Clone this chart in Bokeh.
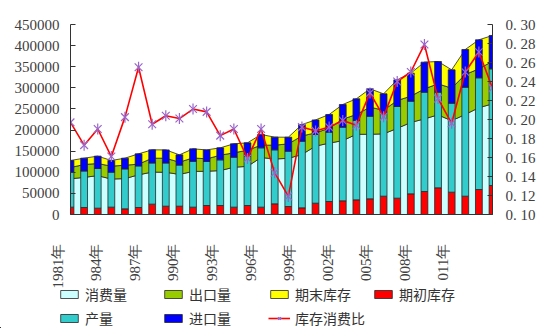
import numpy as np
from bokeh.plotting import figure
from bokeh.core.properties import value
from bokeh.models import (Range1d, LinearAxis, FixedTicker, NumeralTickFormatter,
                          CustomJSTickFormatter, Legend, LegendItem, ColumnDataSource)
from bokeh.embed import file_html
from bokeh.resources import INLINE

# ---------------- data ----------------
years = list(range(1981, 2013))
consumption = [84500, 88000, 92000, 84000, 85000, 94000, 100500, 100000, 95000, 102000,
               102500, 104000, 112000, 114000, 135000, 131500, 133000, 142000, 162000, 169000,
               175000, 190000, 190000, 191000, 204000, 218000, 226500, 236000, 222000, 237000,
               253000, 262000]
exports = [26800, 30400, 28800, 30500, 31800, 25200, 32900, 33300, 28900, 32200,
           29200, 36500, 34100, 38300, 29200, 32800, 34200, 44200, 31200, 35400,
           50800, 46900, 64200, 56100, 66000, 62200, 71100, 73500, 77200, 94600,
           92000, 101000]
end_stock = [16600, 15000, 17400, 13400, 16600, 24500, 19700, 19700, 17400, 21300,
             21300, 17400, 21300, 17400, 25300, 18900, 15800, 26800, 30800, 32400,
             34700, 37100, 43400, 38700, 48900, 54500, 63200, 52900, 43400, 59200,
             68700, 61000]
begin_stock = [17400, 16600, 15000, 17400, 13400, 16600, 24500, 19700, 19700, 17400,
               21300, 21300, 17400, 21300, 17400, 25300, 18900, 15800, 26800, 30800,
               32400, 34700, 37100, 43400, 38700, 48900, 54500, 63200, 52900, 43400,
               59200, 68700]
production = [82900, 86400, 94000, 82900, 94600, 98400, 97500, 102300, 97300, 108600,
              104200, 108100, 118400, 116100, 140500, 127800, 131100, 157800, 162700, 164200,
              174400, 187900, 195700, 195000, 217100, 219500, 235200, 226500, 210700, 258100,
              264500, 276300]
imports = [27600, 30400, 29200, 27600, 25400, 28700, 31100, 31000, 24300, 29500,
           27500, 28500, 31600, 32300, 31600, 30100, 33000, 39400, 34500, 41800,
           53700, 51400, 64800, 47400, 63100, 66300, 71100, 72700, 79000, 89300,
           90000, 79000]
stock_ratio = [0.197, 0.173, 0.190, 0.161, 0.2025, 0.255, 0.195, 0.204, 0.201, 0.211,
               0.208, 0.183, 0.190, 0.159, 0.190, 0.144, 0.119, 0.192, 0.188, 0.192,
               0.199, 0.194, 0.228, 0.203, 0.240, 0.250, 0.279, 0.222, 0.196, 0.250,
               0.271, 0.233]
tick_years = [1981, 1984, 1987, 1990, 1993, 1996, 1999, 2002, 2005, 2008, 2011]
tick_labels = ["1981年", "984年", "987年", "990年", "993年", "996年",
               "999年", "002年", "005年", "008年", "011年"]
series_names = ["消费量", "出口量", "期末库存", "期初库存", "产量", "进口量", "库存消费比"]

# ---------------- style / layout ----------------
C_CONS, C_EXP, C_END = "#CCFFFF", "#99CC00", "#FFFF00"
C_BEG, C_PROD, C_IMP = "#FF0000", "#33CCCC", "#0000FF"
OUT = "#262626"
MARK = "#9966CC"
NUM_FONT = "Liberation Serif"
CJK_FONT = "Noto Sans CJK SC"
W = 556
LEFT, RIGHT, TOP = 70, 64, 24
FRAME_H = 190
BOTTOM = 10
MAIN_H = TOP + FRAME_H + BOTTOM
LOW_H = 328 - MAIN_H
X0, X1 = 1981, 2012
PX_PER_YEAR = (W - LEFT - RIGHT) / (X1 - X0)

p = figure(width=W, height=MAIN_H, output_backend="svg", toolbar_location=None,
           x_range=Range1d(X0, X1), y_range=Range1d(0, 450000),
           min_border_left=LEFT, min_border_right=RIGHT, min_border_top=TOP,
           min_border_bottom=BOTTOM)
p.extra_y_ranges = {"r": Range1d(0.10, 0.30)}
p.outline_line_color = None
p.xgrid.visible = False
p.ygrid.visible = False

x = np.array(years, dtype=float)
c = np.array(consumption, dtype=float)
e = np.array(exports, dtype=float)
s = np.array(end_stock, dtype=float)
levels = [np.zeros_like(c), c, c + e, c + e + s]
for i, col in enumerate([C_CONS, C_EXP, C_END]):
    xs = np.concatenate([x, x[::-1]])
    ys = np.concatenate([levels[i + 1], levels[i][::-1]])
    p.patch(xs, ys, fill_color=col, line_color=OUT, line_width=0.8)

src = ColumnDataSource(dict(x=years, b=begin_stock, pr=production, im=imports))
p.vbar_stack(["b", "pr", "im"], x="x", width=0.5, source=src,
             fill_color=[C_BEG, C_PROD, C_IMP], line_color=OUT, line_width=0.8)

p.line(years, stock_ratio, y_range_name="r", line_color="#FF0000", line_width=1.6)
p.scatter(years, stock_ratio, y_range_name="r", marker="x", size=11,
          line_color=MARK, line_width=1.2)
p.scatter(years, stock_ratio, y_range_name="r", marker="dash", angle=np.pi / 2,
          size=11, line_color=MARK, line_width=1.2)

def style_axis(ax):
    ax.axis_line_color = "#333333"
    ax.axis_line_width = 1
    ax.major_tick_line_color = "#333333"
    ax.major_tick_in = 5
    ax.major_tick_out = 0
    ax.minor_tick_line_color = None
    ax.major_label_text_font = NUM_FONT
    ax.major_label_text_font_size = "15px"
    ax.major_label_text_color = "#404040"

ly = p.yaxis[0]
style_axis(ly)
ly.ticker = FixedTicker(ticks=list(range(0, 450001, 50000)))
ly.formatter = NumeralTickFormatter(format="0")
ly.major_label_standoff = 11

ry = LinearAxis(y_range_name="r")
style_axis(ry)
ry.ticker = FixedTicker(ticks=[0.10, 0.12, 0.14, 0.16, 0.18, 0.20, 0.22, 0.24, 0.26, 0.28, 0.30])
ry.formatter = CustomJSTickFormatter(code="return tick.toFixed(2).replace('.', '. ');")
ry.major_label_standoff = 13
p.add_layout(ry, "right")

bx = p.xaxis[0]
style_axis(bx)
bx.ticker = FixedTicker(ticks=[])
bx.major_tick_line_color = None
bx.major_label_standoff = 0
bx.major_label_text_font_size = "0px"

# ---------------- lower strip: category labels + legend ----------------
lf = figure(width=W, height=LOW_H, output_backend="svg", toolbar_location=None,
            x_range=Range1d(X0 - LEFT / PX_PER_YEAR, X1 + RIGHT / PX_PER_YEAR),
            y_range=Range1d(0, LOW_H), x_axis_type=None, y_axis_type=None,
            min_border=0, min_border_left=0, min_border_right=0,
            min_border_top=0, min_border_bottom=0)
lf.outline_line_color = None
lf.xgrid.visible = False
lf.ygrid.visible = False

label_pos = [X0 - 0.95 + (yy - X0) * 0.945 for yy in tick_years]
lf.text(x=label_pos, y=[LOW_H - 19] * len(label_pos), text=tick_labels,
        angle=np.pi / 2, text_align="right", text_baseline="middle",
        text_font=value(NUM_FONT), text_font_size="15px", text_color="#404040")

OFF = [X0 - 100]  # legend swatches only; the point lies outside the view
def swatch(col):
    return lf.vbar(x=OFF, top=[1], width=1, fill_color=col, line_color=OUT, line_width=0.8)

d_cons, d_exp, d_end = swatch(C_CONS), swatch(C_EXP), swatch(C_END)
d_beg, d_prod, d_imp = swatch(C_BEG), swatch(C_PROD), swatch(C_IMP)
d_ln = lf.line(x=[X0 - 100, X0 - 99], y=[1, 1], line_color="#FF0000", line_width=1.6)
d_m1 = lf.scatter(x=OFF, y=[1], marker="x", size=11, line_color=MARK, line_width=1.2)
d_m2 = lf.scatter(x=OFF, y=[1], marker="dash", angle=np.pi / 2, size=11,
                  line_color=MARK, line_width=1.2)

def add_legend(items, vx, vy):
    lg = Legend(items=items, location=(vx, vy), orientation="vertical",
                spacing=4, padding=0, margin=0, glyph_width=22, glyph_height=10,
                label_height=20, label_standoff=5,
                label_text_font=CJK_FONT, label_text_font_size="14px",
                label_text_color="#333333", border_line_color=None,
                background_fill_alpha=0)
    lf.add_layout(lg)

add_legend([LegendItem(label=series_names[0], renderers=[d_cons]),
            LegendItem(label=series_names[4], renderers=[d_prod])], 58, 0)
add_legend([LegendItem(label=series_names[1], renderers=[d_exp]),
            LegendItem(label=series_names[5], renderers=[d_imp])], 162, 0)
add_legend([LegendItem(label=series_names[2], renderers=[d_end]),
            LegendItem(label=series_names[6], renderers=[d_ln, d_m1, d_m2])], 268, 0)
add_legend([LegendItem(label=series_names[3], renderers=[d_beg])], 372, 24)

open("out.html", "w").write(file_html([p, lf], INLINE, "chart"))
